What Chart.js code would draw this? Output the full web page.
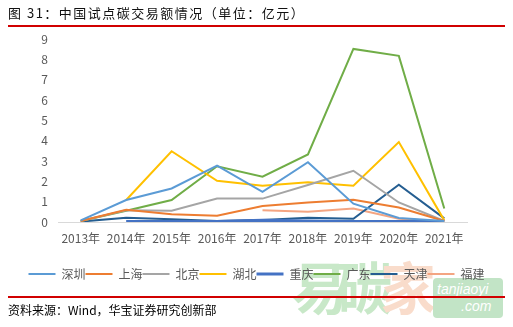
<!DOCTYPE html>
<html>
<head>
<meta charset="utf-8">
<script src="https://cdn.jsdelivr.net/npm/chart.js@4/dist/chart.umd.min.js"></script>
<style>
  body { margin: 0; background: #fff; width: 513px; height: 327px; overflow: hidden; position: relative; font-family: "Noto Sans CJK SC", sans-serif; }
  #title { position: absolute; left: 8px; top: 3px; font-size: 13px; color: #111; letter-spacing: 1.5px; }
  .redline { position: absolute; left: 8px; width: 497px; height: 2px; background: #d10000; }
  #source { position: absolute; left: 8px; top: 301px; font-size: 12px; color: #000; }
  #wrap { position: absolute; left: 0; top: 0; width: 513px; height: 327px; }
  #wm { position: absolute; left: 292px; top: 244px; font-size: 56px; font-weight: bold; color: #c8e8c8; letter-spacing: -12px; }
  #wm span { color: #f9dccb; }
  #wmbox { position: absolute; left: 433px; top: 278px; width: 70px; height: 40px; border-radius: 4px; background: #c2e4c6; color: #fff; font-size: 14px; line-height: 17px; font-style: italic; font-family: "Liberation Sans", sans-serif; }
</style>
</head>
<body>
<div id="wm">易碳<span>家</span></div>
<div id="wmbox"><div style="padding:3px 0 0 4px">tanjiaoyi</div><div style="padding-left:28px">.com</div></div>
<div id="wrap"><canvas id="c" width="513" height="327"></canvas></div>
<div id="title">图 31：中国试点碳交易额情况（单位：亿元）</div>
<div class="redline" style="top:25px"></div>
<div class="redline" style="top:296px"></div>
<div id="source">资料来源：Wind，华宝证券研究创新部</div>
<script>
const years = ['2013年', '2014年', '2015年', '2016年', '2017年', '2018年', '2019年', '2020年', '2021年'];
const shenzhen  = [0.08, 1.08, 1.65, 2.77, 1.48, 2.94, 0.90, 0.20, 0.05];
const shanghai  = [0.05, 0.60, 0.38, 0.31, 0.79, 0.96, 1.09, 0.71, 0.05];
const beijing   = [0.05, 0.58, 0.55, 1.15, 1.15, 1.82, 2.52, 0.96, 0.05];
const hubei     = [null, 1.08, 3.48, 2.03, 1.78, 1.95, 1.78, 3.93, 0.08];
const chongqing = [null, 0.03, 0.02, 0.03, 0.08, 0.05, 0.03, 0.03, 0.02];
const guangdong = [0.05, 0.55, 1.08, 2.74, 2.23, 3.32, 8.51, 8.17, 0.66];
const tianjin   = [0.02, 0.21, 0.13, 0.05, 0.10, 0.21, 0.16, 1.83, 0.18];
const fujian    = [null, null, null, null, 0.58, 0.51, 0.66, 0.16, 0.02];

function line(label, data, color, width) {
  return { label, data, borderColor: color, backgroundColor: color, borderWidth: width || 2, pointRadius: 0, tension: 0, fill: false };
}

new Chart(document.getElementById('c'), {
  type: 'line',
  data: {
    labels: years,
    datasets: [
      line('深圳', shenzhen, '#5b9bd5'),
      line('上海', shanghai, '#ed7d31'),
      line('北京', beijing, '#a5a5a5'),
      line('湖北', hubei, '#ffc000'),
      line('重庆', chongqing, '#4472c4', 3),
      line('广东', guangdong, '#70ad47'),
      line('天津', tianjin, '#255e91'),
      line('福建', fujian, '#f4a582')
    ]
  },
  options: {
    responsive: false,
    animation: false,
    layout: { padding: { top: 39, right: 0, bottom: 37, left: 0 } },
    plugins: {
      tooltip: { enabled: false },
      legend: {
        position: 'bottom',
        labels: {
          usePointStyle: true,
          pointStyle: 'line',
          pointStyleWidth: 27,
          padding: 0,
          color: '#595959',
          font: { family: 'Noto Sans CJK SC', size: 12 }
        }
      }
    },
    scales: {
      x: {
        offset: true,
        grid: { display: false },
        border: { color: '#d9d9d9', width: 1 },
        ticks: { color: '#595959', padding: 1, maxRotation: 0, font: { family: 'Noto Sans CJK SC', size: 12 } },
        afterFit: s => { s.height = 46; }
      },
      y: {
        min: 0,
        max: 9,
        grid: { display: false },
        border: { display: false },
        ticks: { stepSize: 1, color: '#595959', padding: 2, font: { family: 'Noto Sans CJK SC', size: 12 } },
        afterFit: s => { s.width = 58; }
      },
      // empty right-hand axis, only to keep the plot clear of the right edge
      spacer: {
        position: 'right',
        grid: { display: false },
        border: { display: false },
        ticks: { display: false },
        afterFit: s => { s.width = 46; }
      }
    }
  }
});
</script>
</body>
</html>
